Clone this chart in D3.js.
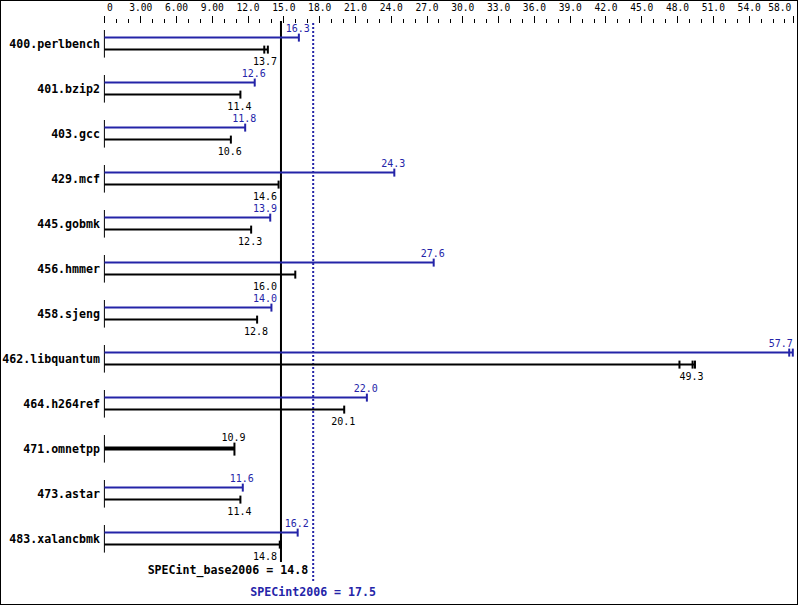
<!DOCTYPE html>
<html><head><meta charset="utf-8">
<script src="https://cdn.jsdelivr.net/npm/d3@7"></script>
<style>
html,body{margin:0;padding:0;background:#fff;}
svg{display:block;}
</style></head>
<body>
<script>
// ---- data ----
const benchmarks = ["400.perlbench","401.bzip2","403.gcc","429.mcf","445.gobmk","456.hmmer","458.sjeng","462.libquantum","464.h264ref","471.omnetpp","473.astar","483.xalancbmk"];
const peakValues = [16.3,12.6,11.8,24.3,13.9,27.6,14.0,57.7,22.0,null,11.6,16.2];
const baseValues = [13.7,11.4,10.6,14.6,12.3,16.0,12.8,49.3,20.1,10.9,11.4,14.8];
const baseRunMarks = [[13.4],[],[],[],[],[],[],[48.2,49.5],[],[],[],[14.7]];
const peakRunMarks = [[],[],[],[],[],[],[],[57.4],[],[],[],[]];
const majorTicks = [0,3,6,9,12,15,18,21,24,27,30,33,36,39,42,45,48,51,54,57.7];
const tickLabels = ["0","3.00","6.00","9.00","12.0","15.0","18.0","21.0","24.0","27.0","30.0","33.0","36.0","39.0","42.0","45.0","48.0","51.0","54.0","58.0"];
const minorTicks = [1,2,4,5,7,8,10,11,13,14,16,17,19,20,22,23,25,26,28,29,31,32,34,35,37,38,40,41,43,44,46,47,49,50,52,53,55,56,57];
const baseMean = 14.8, peakMean = 17.5;
const baseMeanLabel = "SPECint_base2006 = 14.8";
const peakMeanLabel = "SPECint2006 = 17.5";

// ---- drawing ----
const W = 799, H = 606;
const BLUE = "#2424a8", BLACK = "#000";
const MONO = "'DejaVu Sans Mono', 'Liberation Mono', monospace";
const svg = d3.select("body").append("svg").attr("width", W).attr("height", H);

svg.append("rect").attr("x",0.5).attr("y",0.5).attr("width",W-2).attr("height",H-2)
  .attr("fill","#fff").attr("stroke","#000").attr("stroke-width",1);

const x = d3.scaleLinear().domain([0, 57.7]).range([104.4, 792.8]);
const y = d3.scaleBand().domain(benchmarks).range([21.1, 561.1]); // 45px per group
const cy = b => y(b) + y.bandwidth()/2;

// axis
const axisY = 23;
const gMajor = svg.append("g").attr("transform",`translate(0,${axisY})`)
  .call(d3.axisTop(x).tickValues(majorTicks).tickSize(7).tickPadding(5)
        .tickFormat((d,i)=>tickLabels[i]));
const gMinor = svg.append("g").attr("transform",`translate(0,${axisY})`)
  .call(d3.axisTop(x).tickValues(minorTicks).tickSize(4).tickFormat(""));
[gMajor,gMinor].forEach(g=>{
  g.select(".domain").remove();
  g.attr("font-family", MONO).attr("font-size", 9.6);
  g.selectAll("line").attr("stroke","#000").attr("shape-rendering","crispEdges");
});
gMajor.selectAll("text").attr("fill","#000");
gMajor.selectAll(".tick").filter((d,i)=>i===0).select("text").attr("text-anchor","start").attr("x",2);
gMajor.selectAll(".tick").filter((d,i)=>i===majorTicks.length-1).select("text").attr("text-anchor","end").attr("x",-2);

// reference lines
const lineTop = 21, baseLineBottom = 562, peakLineBottom = 582;
svg.append("line").attr("x1",x(baseMean)).attr("x2",x(baseMean))
  .attr("y1",lineTop).attr("y2",baseLineBottom).attr("stroke",BLACK).attr("stroke-width",2);
svg.append("line").attr("x1",x(peakMean)).attr("x2",x(peakMean))
  .attr("y1",lineTop+2).attr("y2",peakLineBottom).attr("stroke",BLUE).attr("stroke-width",2)
  .attr("stroke-dasharray","2,2");

// label placement avoiding base line
function labelX(v){
  let cx = x(v) - 1;
  const half = 12, lx = x(baseMean);
  if (cx + half > lx - 3 && cx - half < lx + 2) cx = lx - 4 - half;
  if (cx + half > x(57.7)) cx = x(57.7) - half;
  return cx;
}

const groups = svg.selectAll("g.bench").data(benchmarks).enter().append("g").attr("class","bench");
groups.each(function(b,i){
  const g = d3.select(this);
  const c = cy(b);
  const p = peakValues[i], bv = baseValues[i];
  // group label
  g.append("text").attr("x",100).attr("y",c+4).attr("text-anchor","end")
    .attr("font-family",MONO).attr("font-weight","bold").attr("font-size",11.6).text(b);
  // start tick
  g.append("line").attr("x1",x(0)).attr("x2",x(0)).attr("y1",c-13.6).attr("y2",c+14)
    .attr("stroke","#000").attr("stroke-width",1);
  if (p != null) {
    const yb = c-6;
    const pend = Math.max(p, ...peakRunMarks[i]);
    g.append("line").attr("x1",x(0)).attr("x2",x(pend)).attr("y1",yb).attr("y2",yb)
      .attr("stroke",BLUE).attr("stroke-width",2);
    [p, ...peakRunMarks[i]].forEach(v=>g.append("line").attr("x1",x(v)).attr("x2",x(v))
      .attr("y1",yb-4).attr("y2",yb+4).attr("stroke",BLUE).attr("stroke-width",2));
    g.append("text").attr("x",labelX(p)).attr("y",c-12).attr("text-anchor","middle")
      .attr("font-family",MONO).attr("font-size",10).attr("fill",BLUE).text(p.toFixed(1));
    const yk = c+6;
    const bend = Math.max(bv, ...baseRunMarks[i]);
    g.append("line").attr("x1",x(0)).attr("x2",x(bend)).attr("y1",yk).attr("y2",yk)
      .attr("stroke",BLACK).attr("stroke-width",2);
    [bv, ...baseRunMarks[i]].forEach(v=>g.append("line").attr("x1",x(v)).attr("x2",x(v))
      .attr("y1",yk-4).attr("y2",yk+4).attr("stroke",BLACK).attr("stroke-width",2));
    g.append("text").attr("x",labelX(bv)).attr("y",c+21).attr("text-anchor","middle")
      .attr("font-family",MONO).attr("font-size",10).attr("fill",BLACK).text(bv.toFixed(1));
  } else {
    g.append("line").attr("x1",x(0)).attr("x2",x(bv)).attr("y1",c).attr("y2",c)
      .attr("stroke",BLACK).attr("stroke-width",4);
    g.append("line").attr("x1",x(bv)).attr("x2",x(bv)).attr("y1",c-6).attr("y2",c+7)
      .attr("stroke",BLACK).attr("stroke-width",2);
    g.append("text").attr("x",labelX(bv)).attr("y",c-7.5).attr("text-anchor","middle")
      .attr("font-family",MONO).attr("font-size",10).attr("fill",BLACK).text(bv.toFixed(1));
  }
});

// mean labels
svg.append("text").attr("x",x(peakMean)-5).attr("y",574).attr("text-anchor","end")
  .attr("font-family",MONO).attr("font-weight","bold").attr("font-size",11.6).text(baseMeanLabel);
svg.append("text").attr("x",x(peakMean)).attr("y",596).attr("text-anchor","middle")
  .attr("font-family",MONO).attr("font-weight","bold").attr("font-size",11.6).attr("fill",BLUE).text(peakMeanLabel);
</script>
</body></html>
